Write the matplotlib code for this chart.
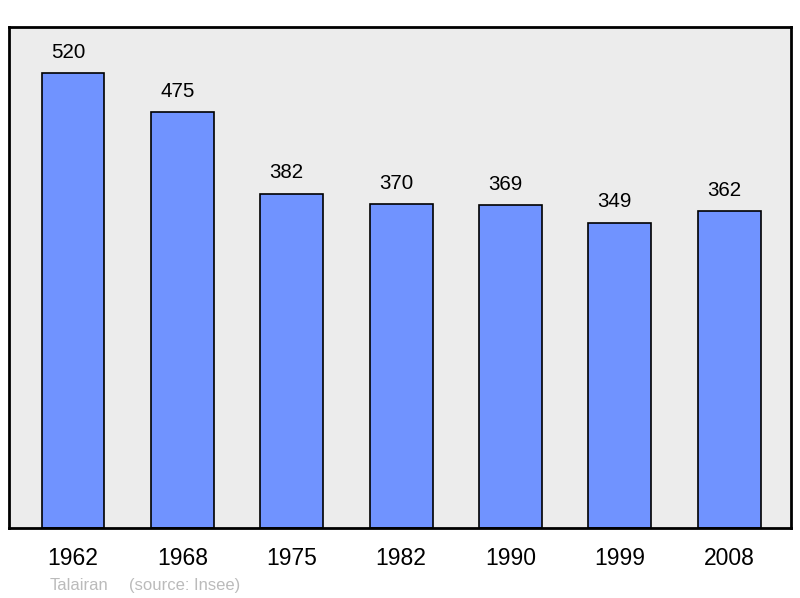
import matplotlib
matplotlib.use("Agg")
import matplotlib.pyplot as plt

years = ["1962", "1968", "1975", "1982", "1990", "1999", "2008"]
population = [520, 475, 382, 370, 369, 349, 362]
commune = "Talairan"
source = "(source: Insee)"

plt.rcParams['font.family'] = ['Liberation Sans', 'DejaVu Sans']

fig = plt.figure(figsize=(8.0, 5.98), dpi=100)
ax = fig.add_axes([9/800, 1 - 528/598, 782/800, 501/598])
ax.set_facecolor('#ececec')
x = list(range(len(years)))
ax.bar(x, population, width=0.575, color='#7093ff', edgecolor='black', linewidth=1.2, zorder=2)
for xi, v in zip(x, population):
    ax.annotate(str(v), (xi, v), xytext=(-3.6, 11), textcoords='offset points',
                ha='center', va='baseline', fontsize=14.8, color='black')
ax.set_xlim(-0.585, 6.565)
ax.set_ylim(0, 572.5)
ax.set_xticks(x)
ax.set_xticklabels(years, fontsize=16.5)
ax.tick_params(axis='x', length=0, pad=14)
ax.set_yticks([])
for s in ax.spines.values():
    s.set_linewidth(2)
    s.set_color('black')

fig.text(50/800, 1 - 590/598, commune, fontsize=12, color='#bbbbbb', va='baseline')
fig.text(129/800, 1 - 590/598, source, fontsize=12, color='#bbbbbb', va='baseline')

fig.savefig('out.png', dpi=100)
